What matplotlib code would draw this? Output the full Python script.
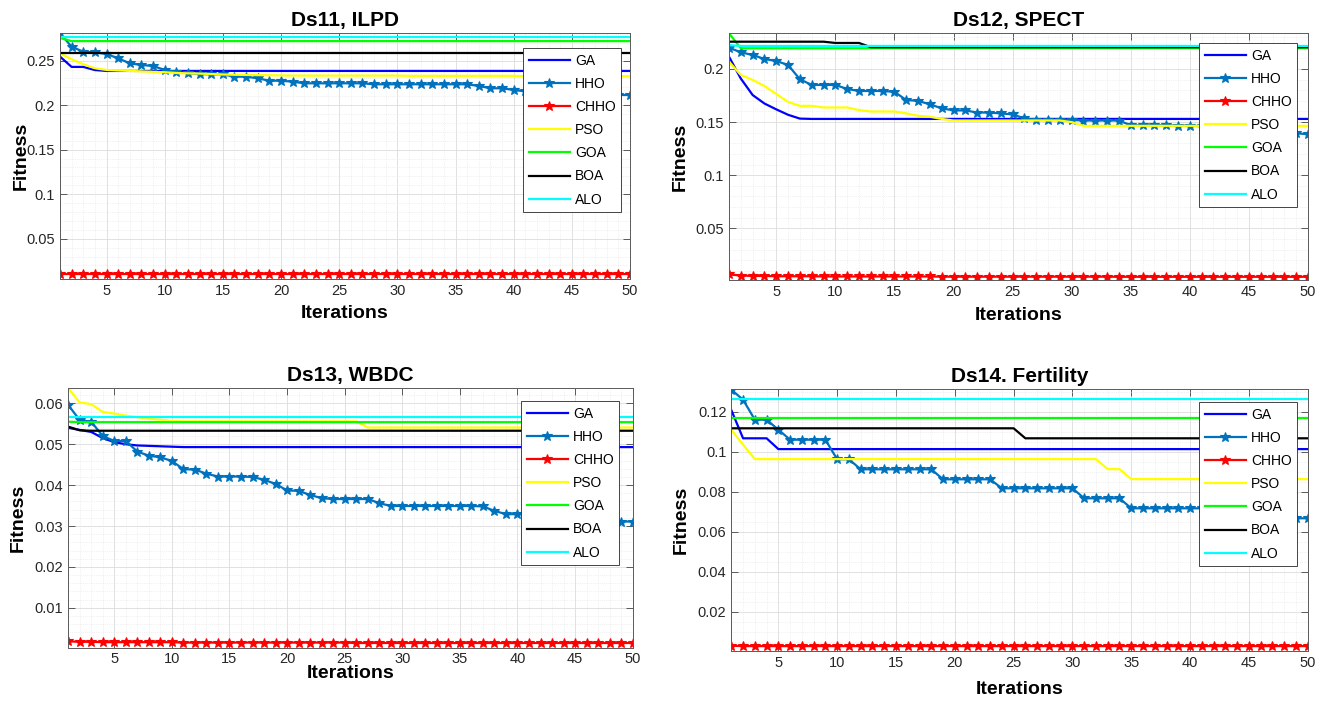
import numpy as np
import matplotlib
matplotlib.use("Agg")
import matplotlib.pyplot as plt
from matplotlib.ticker import MultipleLocator, FuncFormatter

plt.rcParams['font.family'] = ['Liberation Sans', 'DejaVu Sans']

iterations = np.arange(1, 51)
algorithms = ["GA", "HHO", "CHHO", "PSO", "GOA", "BOA", "ALO"]


def steps(runs):
    # (level, how many iterations it holds) -> full curve
    out = []
    for level, n in runs:
        out += [level] * n
    return out


# Ds11, ILPD
ilpd_ga = steps([(0.2546, 1), (0.2430, 2), (0.2395, 1), (0.2385, 46)])
ilpd_hho = [0.2808, 0.2657, 0.2601, 0.2594, 0.2575, 0.2527, 0.2470, 0.2452, 0.2440, 0.2396,
            0.2370, 0.2360, 0.2350, 0.2347, 0.2347, 0.2320, 0.2320, 0.2302, 0.2275, 0.2275,
            0.2264, 0.2246, 0.2246, 0.2246, 0.2246, 0.2246, 0.2246, 0.2235, 0.2235, 0.2235,
            0.2235, 0.2235, 0.2235, 0.2235, 0.2235, 0.2235, 0.2216, 0.2190, 0.2190, 0.2171,
            0.2155, 0.2150, 0.2140, 0.2140, 0.2130, 0.2130, 0.2120, 0.2120, 0.2115, 0.2115]
ilpd_chho = steps([(0.0103, 50)])
ilpd_pso = [0.2583, 0.2516, 0.2460, 0.2415, 0.2396, 0.2390, 0.2385, 0.2380, 0.2375, 0.2370,
            0.2362, 0.2358, 0.2355, 0.2350, 0.2345, 0.2342, 0.2340, 0.2338, 0.2336, 0.2335] \
    + steps([(0.2333, 10), (0.2330, 10), (0.2326, 10)])
ilpd_goa = steps([(0.2755, 1), (0.2720, 49)])
ilpd_boa = steps([(0.2590, 50)])
ilpd_alo = steps([(0.2770, 50)])

# Ds12, SPECT
spect_ga = [0.2116, 0.1910, 0.1755, 0.1675, 0.1620, 0.1569, 0.1533] + steps([(0.1530, 43)])
spect_hho = [0.2200, 0.2157, 0.2132, 0.2094, 0.2075, 0.2038, 0.1903, 0.1850, 0.1850, 0.1850,
             0.1812, 0.1793, 0.1793, 0.1793, 0.1785, 0.1708, 0.1700, 0.1667, 0.1630, 0.1610,
             0.1610, 0.1590, 0.1590, 0.1582, 0.1572, 0.1535, 0.1520, 0.1520, 0.1520, 0.1520,
             0.1515, 0.1515, 0.1515, 0.1515, 0.1470, 0.1470, 0.1470, 0.1470, 0.1468, 0.1468,
             0.1460, 0.1455, 0.1450, 0.1445, 0.1440, 0.1430, 0.1420, 0.1410, 0.1395, 0.1386]
spect_chho = steps([(0.0066, 1), (0.0056, 1), (0.0052, 2), (0.0049, 4), (0.0047, 10),
                    (0.0045, 15), (0.0044, 17)])
spect_pso = [0.2069, 0.1944, 0.1897, 0.1840, 0.1765, 0.1690, 0.1653, 0.1653, 0.1638, 0.1638,
             0.1638, 0.1613, 0.1600, 0.1600, 0.1600, 0.1582, 0.1560, 0.1550, 0.1530, 0.1515] \
    + steps([(0.1515, 9), (0.1500, 1), (0.1465, 20)])
spect_goa = steps([(0.2336, 1), (0.2195, 49)])
spect_boa = steps([(0.2257, 9), (0.2245, 3), (0.2205, 38)])
spect_alo = steps([(0.2225, 1), (0.2217, 49)])

# Ds13, WBDC
wbdc_ga = [0.0540, 0.0535, 0.0530, 0.0515, 0.0505, 0.0500, 0.0497, 0.0496, 0.0495, 0.0494] \
    + steps([(0.0493, 40)])
wbdc_hho = [0.0596, 0.0559, 0.0555, 0.0520, 0.0508, 0.0508, 0.0482, 0.0472, 0.0468, 0.0459,
            0.0439, 0.0438, 0.0428, 0.0421, 0.0421, 0.0421, 0.0420, 0.0413, 0.0403, 0.0387,
            0.0386, 0.0376, 0.0368, 0.0366, 0.0366, 0.0366, 0.0366, 0.0356, 0.0349, 0.0349,
            0.0349, 0.0349, 0.0349, 0.0349, 0.0349, 0.0349, 0.0348, 0.0337, 0.0329, 0.0329,
            0.0328, 0.0325, 0.0322, 0.0320, 0.0318, 0.0316, 0.0313, 0.0311, 0.0311, 0.0311]
wbdc_chho = steps([(0.0018, 1), (0.0017, 2), (0.0016, 7), (0.0015, 15), (0.0014, 25)])
wbdc_pso = [0.0637, 0.0602, 0.0598, 0.0579, 0.0575, 0.0570, 0.0566, 0.0562, 0.0560, 0.0557] \
    + steps([(0.0556, 16), (0.0541, 24)])
wbdc_goa = steps([(0.0555, 1), (0.0554, 49)])
wbdc_boa = [0.0543, 0.0534] + steps([(0.0533, 48)])
wbdc_alo = steps([(0.0567, 50)])

# Ds14. Fertility
fert_ga = steps([(0.1208, 1), (0.1067, 3), (0.1013, 46)])
fert_hho = steps([(0.1310, 1), (0.1260, 1), (0.1160, 2), (0.1110, 1), (0.1060, 4), (0.0962, 2),
                  (0.0912, 7), (0.0862, 5), (0.0817, 7), (0.0767, 4), (0.0717, 10), (0.0667, 6)])
fert_chho = steps([(0.0030, 1), (0.0028, 49)])
fert_pso = steps([(0.1109, 1), (0.1035, 1), (0.0963, 30), (0.0913, 2), (0.0863, 16)])
fert_goa = steps([(0.1167, 50)])
fert_boa = steps([(0.1117, 25), (0.1067, 25)])
fert_alo = steps([(0.1262, 50)])

styles = {
    "GA":   dict(color="#0000ff"),
    "HHO":  dict(color="#0072bd", marker="*", markersize=7.5),
    "CHHO": dict(color="#ff0000", marker="*", markersize=7.5),
    "PSO":  dict(color="#ffff00"),
    "GOA":  dict(color="#00ff00"),
    "BOA":  dict(color="#000000"),
    "ALO":  dict(color="#00ffff"),
}

W, H = 1329, 701
fig = plt.figure(figsize=(W / 100, H / 100), dpi=100)

panels = [
    dict(title="Ds11, ILPD", series=[ilpd_ga, ilpd_hho, ilpd_chho, ilpd_pso, ilpd_goa, ilpd_boa, ilpd_alo],
         box=(60, 33.1, 630, 279.2), ylim=(0.0045, 0.281), major=0.05, minor=0.01,
         leg=(523, 48), ylab_x=21.5, xlab_y=313),
    dict(title="Ds12, SPECT", series=[spect_ga, spect_hho, spect_chho, spect_pso, spect_goa, spect_boa, spect_alo],
         box=(729, 33.3, 1308, 280.4), ylim=(0.001, 0.2336), major=0.05, minor=0.01,
         leg=(1199, 43), ylab_x=680, xlab_y=316),
    dict(title="Ds13, WBDC", series=[wbdc_ga, wbdc_hho, wbdc_chho, wbdc_pso, wbdc_goa, wbdc_boa, wbdc_alo],
         box=(68.2, 388.2, 632.7, 647.5), ylim=(0.0003, 0.0637), major=0.01, minor=0.002,
         leg=(521, 401), ylab_x=18.5, xlab_y=673),
    dict(title="Ds14. Fertility", series=[fert_ga, fert_hho, fert_chho, fert_pso, fert_goa, fert_boa, fert_alo],
         box=(731.3, 389.3, 1307.7, 650.7), ylim=(0.0005, 0.1312), major=0.02, minor=0.005,
         leg=(1199, 402), ylab_x=681.5, xlab_y=689),
]

for p in panels:
    l, t, r, b = p["box"]
    ax = fig.add_axes([l / W, 1 - b / H, (r - l) / W, (b - t) / H])
    for name, values in zip(algorithms, p["series"]):
        ax.plot(iterations, values, label=name, linewidth=1.6, markeredgewidth=0.8, **styles[name])
    ax.set_xlim(1, 50)
    ax.set_ylim(*p["ylim"])
    ax.xaxis.set_major_locator(MultipleLocator(5))
    ax.xaxis.set_minor_locator(MultipleLocator(1))
    ax.yaxis.set_major_locator(MultipleLocator(p["major"]))
    ax.yaxis.set_minor_locator(MultipleLocator(p["minor"]))
    ax.yaxis.set_major_formatter(FuncFormatter(lambda v, pos: "%g" % round(v, 4)))
    ax.grid(True, which="major", color="#dcdcdc", linewidth=0.6)
    ax.grid(True, which="minor", color="#e4e4e4", linewidth=0.5, linestyle=":")
    ax.set_axisbelow(True)
    ax.tick_params(which="major", direction="in", top=True, right=True, length=5, width=0.6,
                   labelsize=10.5, labelcolor="#262626", color="#444444")
    ax.tick_params(which="minor", length=0)
    for sp in ax.spines.values():
        sp.set_color("#5a5a5a")
        sp.set_linewidth(0.7)

    ax.set_title(p["title"], fontsize=15, fontweight="bold", pad=5)
    ax.set_ylabel("Fitness", fontsize=14, fontweight="bold", va="center")
    ax.yaxis.set_label_coords(p["ylab_x"] / W, 1 - ((t + b) / 2) / H, transform=fig.transFigure)
    ax.set_xlabel("Iterations", fontsize=14, fontweight="bold", va="center")
    ax.xaxis.set_label_coords(((l + r) / 2) / W, 1 - p["xlab_y"] / H, transform=fig.transFigure)

    lx, ly = p["leg"]
    leg = ax.legend(loc="upper left", bbox_to_anchor=(lx / W, 1 - ly / H),
                    bbox_transform=fig.transFigure, borderaxespad=0, fontsize=10,
                    labelspacing=0.66, handlelength=2.95, handletextpad=0.4, borderpad=0.4,
                    fancybox=False, framealpha=1, edgecolor="#262626")
    leg.get_frame().set_linewidth(0.6)

fig.savefig("out.png", dpi=100)
plt.close(fig)
